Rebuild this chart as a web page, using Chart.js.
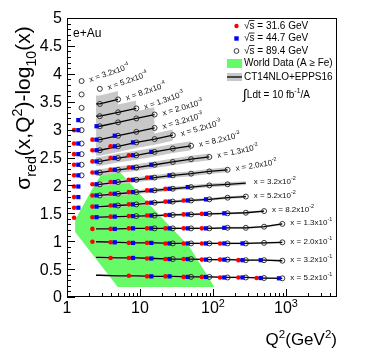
<!DOCTYPE html>
<html>
<head>
<meta charset="utf-8">
<script src="https://cdn.jsdelivr.net/npm/chart.js@4.4.0/dist/chart.umd.min.js"></script>
<style>
  html, body { margin: 0; padding: 0; background: #fff; }
</style>
</head>
<body>
<canvas id="chart" width="374" height="363"></canvas>
<script>
// Q2 bin centres (GeV^2); red and blue energies sit a little lower
const q2Open = [1.585, 2.818, 5.012, 8.913, 15.85, 28.18, 50.12, 89.13, 158.5, 281.8, 501.2, 891.3];
const q2Blue = [1.43, 2.54, 4.51, 8.02, 14.3, 25.4, 45.1, 80.2, 143, 254, 451, 802];
const q2Red  = [1.25, 2.23, 3.96, 7.04, 12.5, 22.3, 39.6, 70.4, 125, 223, 396, 704];

// x bins, top row first
const xMantissa = ['3.2','5.2','8.2','1.3','2.0','3.2','5.2','8.2','1.3','2.0','3.2','5.2','8.2','1.3','2.0','3.2','5.2'];
const xExponent = ['-4','-4','-4','-3','-3','-3','-3','-3','-2','-2','-2','-2','-2','-1','-1','-1','-1'];

// sigma_red - log10(x), one value per Q2 bin
const rowValues = [
  [3.87],
  [3.63, 3.73],
  [3.39, 3.46, 3.54],
  [3.17, 3.24, 3.31, 3.38],
  [2.99, 3.06, 3.13, 3.20, 3.27],
  [2.75, 2.82, 2.89, 2.96, 3.03],
  [2.56, 2.63, 2.70, 2.77, 2.83, 2.90],
  [2.37, 2.43, 2.49, 2.54, 2.60, 2.66, 2.71],
  [2.18, 2.23, 2.28, 2.32, 2.37, 2.42, 2.47, 2.51],
  [1.98, 2.02, 2.06, 2.10, 2.14, 2.18, 2.21, 2.25, 2.28],
  [1.79, 1.82, 1.85, 1.88, 1.91, 1.94, 1.97, 2.00, 2.02, 2.04],
  [1.60, 1.62, 1.64, 1.66, 1.69, 1.71, 1.73, 1.75, 1.78, 1.80],
  [1.42, 1.43, 1.44, 1.45, 1.46, 1.47, 1.48, 1.49, 1.50, 1.51, 1.54],
  [1.22, 1.22, 1.22, 1.23, 1.23, 1.23, 1.23, 1.23, 1.24, 1.24, 1.26, 1.31],
  [0.99, 0.99, 0.98, 0.97, 0.97, 0.96, 0.96, 0.96, 0.96, 0.96, 0.97, 0.98],
  [0.71, 0.71, 0.70, 0.70, 0.69, 0.68, 0.68, 0.67, 0.67, 0.66, 0.66, 0.65],
  [0.39, 0.39, 0.38, 0.38, 0.37, 0.37, 0.36, 0.36, 0.35, 0.35, 0.34, 0.335]
];

// first and last Q2 bin measured at each energy (null: none)
const range316 = [null, null, null, null, [0,0], [0,1], [0,2], [0,3], [0,3], [0,4], [0,5], [0,6], [0,7], [1,7], [1,8], [2,9], [3,10]];
const range447 = [null, null, null, [0,0], [0,1], [0,2], [0,3], [0,4], [0,4], [0,5], [0,6], [0,7], [1,8], [2,8], [2,9], [3,10], [4,11]];
const range894 = [[0,0], [0,1], [0,2], [0,3], [0,4], [0,4], [0,5], [0,6], [0,7], [1,8], [1,8], [2,9], [3,10], [4,11], [5,11], [5,11], [6,11]];

// CT14NLO+EPPS16 curve starts at this Q2, band half width per row
const theoryQ2Min = 2.5;
const hasTheory = [false, false, true, true, true, true, true, true, true, true, true, true, true, true, true, true, true];
const bandHalf = [0, 0, 0.15, 0.14, 0.13, 0.12, 0.10, 0.08, 0.06, 0.045, 0.035, 0.025, 0.02, 0.018, 0.015, 0.015, 0.015];

// world data envelope (A >= Fe)
const worldUpperQ2 = [1.29, 2.19, 3.10, 3.86, 4.96, 13.6, 47.6, 104.5];
const worldUpperY  = [1.38, 1.92, 2.24, 2.33, 2.28, 1.65, 0.90, 0.18];
const worldLowerQ2 = [1.29, 4.96, 104.5];
const worldLowerY  = [1.165, 0.18, 0.18];

const yTicks = [0, 0.5, 1, 1.5, 2, 2.5, 3, 3.5, 4, 4.5, 5];
const xTicks = [1, 10, 100, 1000];
const xTickText = [['1', ''], ['10', ''], ['10', '2'], ['10', '3']];
const labelTilt = [-19, -19, -19, -19, -16, -16, -16, -13, -12, -9, 0, 0, 0, 0, 0, 0, 0];

const FONT = '"Liberation Sans", Arial, Helvetica, sans-serif';
const RED = '#ff0000', BLUE = '#0000ff', GREEN = 'rgb(102,250,102)', BAND = 'rgb(200,200,200)';
const NONE = 'rgba(0,0,0,0)';

function pts(qs, vals){ return qs.map((q, i) => ({ x: q, y: vals[i] })); }

const datasets = [];
datasets.push({ data: pts(worldLowerQ2, worldLowerY), borderColor: NONE, borderWidth: 0, pointRadius: 0, fill: false, order: 50 });
datasets.push({ data: pts(worldUpperQ2, worldUpperY), borderColor: NONE, borderWidth: 0, pointRadius: 0,
  backgroundColor: GREEN, fill: '-1', order: 50 });

rowValues.forEach((vals, r) => {
  if (!hasTheory[r]) return;
  const line = [{ x: theoryQ2Min, y: vals[1] }];
  for (let k = 1; k < vals.length; k++) line.push({ x: q2Open[k], y: vals[k] });
  datasets.push({ data: line.map(p => ({ x: p.x, y: p.y - bandHalf[r] })), borderColor: NONE, borderWidth: 0, pointRadius: 0, fill: false, order: 40 });
  datasets.push({ data: line.map(p => ({ x: p.x, y: p.y + bandHalf[r] })), borderColor: NONE, borderWidth: 0, pointRadius: 0,
    backgroundColor: BAND, fill: '-1', order: 40 });
  datasets.push({ data: line, borderColor: '#000', borderWidth: 1.3, pointRadius: 0, fill: false, order: 30 });
});

function markerData(range, qs){
  const out = [];
  range.forEach((rg, r) => {
    if (!rg) return;
    for (let k = rg[0]; k <= rg[1]; k++) out.push({ x: qs[k], y: rowValues[r][k] });
  });
  return out;
}

datasets.push({ data: markerData(range316, q2Red), showLine: false, pointStyle: 'circle', pointRadius: 2.3,
  pointBackgroundColor: RED, pointBorderColor: RED, pointBorderWidth: 0, order: 12 });
datasets.push({ data: markerData(range447, q2Blue), showLine: false, pointStyle: 'rect', pointRadius: 3.0,
  pointBackgroundColor: BLUE, pointBorderColor: BLUE, pointBorderWidth: 0, order: 11 });
datasets.push({ data: markerData(range894, q2Open), showLine: false, pointStyle: 'circle', pointRadius: 2.5,
  pointBackgroundColor: NONE, pointBorderColor: '#222', pointBorderWidth: 0.9, order: 10 });

// text with sub/superscripts: parts are [text, 0 normal | 1 sup | -1 sub]
function richText(ctx, parts, x, y, size, align){
  const sz = p => p[1] ? size * 0.68 : size;
  let w = 0;
  for (const p of parts){ ctx.font = sz(p) + 'px ' + FONT; w += ctx.measureText(p[0]).width; }
  let cx = align === 'right' ? x - w : align === 'center' ? x - w / 2 : x;
  for (const p of parts){
    ctx.font = sz(p) + 'px ' + FONT;
    const dy = p[1] === 1 ? -size * 0.4 : p[1] === -1 ? size * 0.28 : 0;
    ctx.fillText(p[0], cx, y + dy);
    cx += ctx.measureText(p[0]).width;
  }
  return w;
}

const decorations = {
  id: 'decorations',
  afterDraw(chart){
    const { ctx, chartArea: a, scales: { x, y } } = chart;
    ctx.save();
    ctx.strokeStyle = '#000';
    ctx.lineWidth = 1;
    ctx.strokeRect(a.left + 0.5, a.top + 0.5, a.right - a.left - 1, a.bottom - a.top - 1);

    ctx.beginPath();
    for (let i = 0; i <= 50; i++){
      const py = Math.round(y.getPixelForValue(i / 10)) + 0.5;
      const len = i % 5 === 0 ? 8 : 4;
      ctx.moveTo(a.left, py); ctx.lineTo(a.left + len, py);
    }
    for (let d = 1; d <= 1000; d *= 10){
      for (let m = 1; m <= 9; m++){
        const v = m * d;
        if (v >= x.max) break;
        const px = Math.round(x.getPixelForValue(v)) + 0.5;
        ctx.moveTo(px, a.bottom); ctx.lineTo(px, a.bottom - (m === 1 ? 8 : 4));
      }
    }
    ctx.stroke();

    ctx.fillStyle = '#000';
    ctx.textBaseline = 'middle';
    ctx.textAlign = 'left';
    yTicks.forEach(v => richText(ctx, [[String(v), 0]], a.left - 5, y.getPixelForValue(v) + 1, 16, 'right'));
    ctx.textBaseline = 'alphabetic';
    xTicks.forEach((v, i) => {
      const t = xTickText[i];
      richText(ctx, t[1] ? [[t[0], 0], [t[1], 1]] : [[t[0], 0]], x.getPixelForValue(v), a.bottom + 16, 16, 'center');
    });

    // axis titles
    richText(ctx, [['Q', 0], ['2', 1], ['(GeV', 0], ['2', 1], [')', 0]], a.right, 345, 17, 'right');
    ctx.save();
    ctx.translate(30, 108);
    ctx.rotate(-Math.PI / 2);
    richText(ctx, [['\u03c3', 0], ['red', -1], ['(x,Q', 0], ['2', 1], [')-log', 0], ['10', -1], ['(x)', 0]], 0, 0, 21, 'center');
    ctx.restore();
    richText(ctx, [['e+Au', 0]], a.left + 6, 37, 12, 'left');

    // x bin labels at the end of each row
    ctx.textBaseline = 'middle';
    ctx.fillStyle = '#111';
    rowValues.forEach((vals, r) => {
      const last = vals.length - 1;
      const px = x.getPixelForValue(q2Open[last]) + 8;
      const py = y.getPixelForValue(vals[last]) - 1;
      ctx.save();
      ctx.translate(px, py);
      ctx.rotate(labelTilt[r] * Math.PI / 180);
      richText(ctx, [['x = ' + xMantissa[r] + 'x10', 0], [xExponent[r], 1]], 0, 0, 8, 'left');
      ctx.restore();
    });

    // legend
    const lx = 244, mx = 236.5;
    const rows = [26, 38.5, 51, 63.5, 77, 95];
    ctx.fillStyle = '#000';
    ['31.6', '44.7', '89.4'].forEach((e, i) => {
      const w = richText(ctx, [['\u221a', 0]], lx, rows[i], 10, 'left');
      ctx.font = '10px ' + FONT;
      const sw = ctx.measureText('s').width;
      ctx.fillText('s = ' + e + ' GeV', lx + w, rows[i]);
      ctx.beginPath();
      ctx.moveTo(lx + w - 0.5, rows[i] - 5.5); ctx.lineTo(lx + w + sw, rows[i] - 5.5);
      ctx.lineWidth = 0.8; ctx.stroke();
    });
    ctx.fillStyle = RED;
    ctx.beginPath(); ctx.arc(mx, rows[0], 2.2, 0, 2 * Math.PI); ctx.fill();
    ctx.fillStyle = BLUE;
    ctx.fillRect(mx - 2.2, rows[1] - 2.2, 4.4, 4.4);
    ctx.strokeStyle = '#222'; ctx.lineWidth = 0.9;
    ctx.beginPath(); ctx.arc(mx, rows[2], 2.4, 0, 2 * Math.PI); ctx.stroke();
    ctx.fillStyle = GREEN;
    ctx.fillRect(227, rows[3] - 4.5, 15, 9);
    ctx.fillStyle = BAND;
    ctx.fillRect(227, rows[4] - 4, 15, 8);
    ctx.strokeStyle = '#000'; ctx.lineWidth = 1.3;
    ctx.beginPath(); ctx.moveTo(227, rows[4]); ctx.lineTo(242, rows[4]); ctx.stroke();
    ctx.fillStyle = '#000';
    richText(ctx, [['World Data (A \u2265 Fe)', 0]], lx, rows[3], 10, 'left');
    richText(ctx, [['CT14NLO+EPPS16', 0]], lx, rows[4], 10, 'left');
    const iw = richText(ctx, [['\u222b', 0]], lx - 1, rows[5], 14, 'left');
    richText(ctx, [['Ldt = 10 fb', 0], ['-1', 1], ['/A', 0]], lx - 1 + iw, rows[5], 10, 'left');
    ctx.restore();
  }
};

new Chart(document.getElementById('chart'), {
  type: 'line',
  data: { datasets },
  options: {
    responsive: false,
    animation: false,
    events: [],
    layout: { padding: { left: 67, top: 18, right: 37, bottom: 66 } },
    plugins: { legend: { display: false }, tooltip: { enabled: false } },
    scales: {
      x: { type: 'logarithmic', min: 1, max: 5000, display: false },
      y: { type: 'linear', min: 0, max: 5, display: false }
    }
  },
  plugins: [decorations]
});
</script>
</body>
</html>
